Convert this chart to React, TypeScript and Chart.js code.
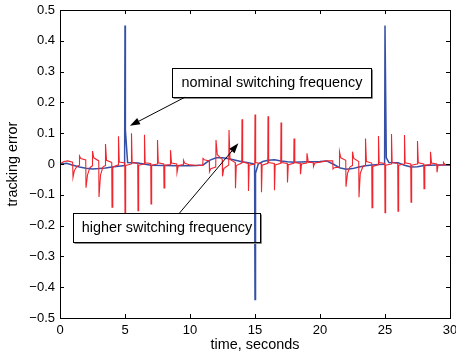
import React, { useEffect, useRef } from "react";
import { Chart, registerables } from "chart.js";

Chart.register(...registerables);

const FONT = "'Liberation Sans', Arial, Helvetica, sans-serif";

// axis ticks
const xTickValues = [0, 5, 10, 15, 20, 25, 30];
const yTickLabels = ["\u22120.5", "\u22120.4", "\u22120.3", "\u22120.2", "\u22120.1", "0", "0.1", "0.2", "0.3", "0.4", "0.5"];
const xTitle = "time, seconds";
const yTitle = "tracking error";

// higher switching frequency (red) – time, value
const redT = [
  0, 0.3, 0.6, 0.97, 1.0, 1.1, 1.3, 1.48, 1.5, 1.6, 1.98, 2.0, 2.12, 2.3, 2.48, 2.5, 2.6, 2.98,
  3.0, 3.12, 3.3, 3.48, 3.5, 3.58, 3.98, 4.0, 4.06, 4.48, 4.5, 4.56, 4.98, 5.0, 5.05, 5.48, 5.5, 5.55, 5.98,
  6.0, 6.05, 6.48, 6.5, 6.55, 6.98, 7.0, 7.05, 7.48, 7.5, 7.56, 7.98, 8.0, 8.06, 8.48, 8.5, 8.58, 8.98,
  9.0, 9.1, 9.48, 9.5, 9.6, 10.0, 10.5, 10.98,
  11.0, 11.1, 11.48, 11.5, 11.6, 11.98, 12.0, 12.1, 12.48, 12.5, 12.6, 12.98, 13.0, 13.08, 13.48, 13.5, 13.56, 13.98,
  14.0, 14.05, 14.48, 14.5, 14.55, 14.98, 15.0, 15.05, 15.48, 15.5, 15.55, 15.98, 16.0, 16.05, 16.48, 16.5, 16.55, 16.98,
  17.0, 17.05, 17.48, 17.5, 17.56, 17.98, 18.0, 18.06, 18.48, 18.5, 18.58, 18.98, 19.0, 19.1, 19.48, 19.5, 19.6, 20.0, 20.5, 20.98,
  21.0, 21.1, 21.48, 21.5, 21.6, 21.98, 22.0, 22.12, 22.3, 22.48, 22.5, 22.6, 22.98, 23.0, 23.1, 23.3, 23.48, 23.5, 23.57, 23.98,
  24.0, 24.06, 24.48, 24.5, 24.55, 24.98, 25.0, 25.05, 25.48, 25.5, 25.55, 25.98, 26.0, 26.05, 26.48, 26.5, 26.55, 26.98,
  27.0, 27.05, 27.48, 27.5, 27.56, 27.98, 28.0, 28.06, 28.48, 28.5, 28.58, 28.98, 29.0, 29.08, 29.48, 29.5, 29.6, 30.0,
];
const redV = [
  0.0, 0.008, 0.01, 0.006, -0.043, -0.022, -0.008, -0.004, 0.026, 0.018, 0.013, -0.077, -0.035, -0.012, -0.006, 0.042, 0.02, 0.01,
  -0.107, -0.035, -0.01, -0.005, 0.065, 0.012, 0.005, -0.14, -0.01, -0.003, 0.09, 0.006, 0.003, -0.16, -0.005, 0.0, 0.1, 0.005, 0.002,
  -0.152, -0.004, 0.0, 0.095, 0.004, 0.002, -0.13, -0.004, 0.0, 0.078, 0.004, 0.0, -0.078, -0.004, -0.002, 0.045, 0.003, 0.0,
  -0.028, -0.005, -0.002, 0.012, 0.002, -0.003, -0.004, -0.005,
  0.018, 0.014, 0.01, -0.025, -0.015, -0.01, 0.078, 0.03, 0.015, -0.04, -0.015, -0.003, 0.11, 0.015, 0.005, -0.079, -0.005, 0.003,
  0.145, 0.006, 0.002, -0.088, -0.004, 0.0, 0.161, 0.005, 0.001, -0.092, -0.004, 0.002, 0.155, 0.005, 0.002, -0.085, -0.003, 0.002,
  0.135, 0.005, 0.002, -0.06, -0.002, 0.002, 0.083, 0.005, 0.002, -0.033, 0.0, 0.003, 0.035, 0.006, 0.004, -0.008, 0.003, 0.006, 0.01, 0.01,
  -0.016, -0.012, -0.01, 0.04, 0.02, 0.012, -0.074, -0.03, -0.01, -0.005, 0.04, 0.018, 0.008, -0.108, -0.03, -0.008, -0.004, 0.083, 0.008, 0.003,
  -0.142, -0.008, -0.002, 0.091, 0.005, 0.002, -0.158, -0.004, 0.0, 0.097, 0.005, 0.002, -0.153, -0.004, 0.0, 0.094, 0.004, 0.0,
  -0.124, -0.004, 0.0, 0.075, 0.004, 0.0, -0.08, -0.004, -0.002, 0.04, 0.003, 0.0, -0.027, -0.004, -0.003, 0.005, -0.002, -0.003,
];

// nominal switching frequency (blue) – time, value
const blueT = [
  0, 0.5, 1, 1.5, 2, 2.5, 3, 3.5, 4, 4.5, 4.97, 5.0, 5.03, 5.2, 5.6, 6, 7, 8, 9, 10, 10.5, 11, 11.5, 12, 12.5, 13, 13.5, 14, 14.5,
  14.97, 15.0, 15.04, 15.25, 15.6, 16, 16.5, 17, 17.5, 18, 19, 20, 20.5, 21, 21.5, 22, 22.5, 23, 23.5, 24, 24.5,
  24.97, 25.0, 25.1, 25.3, 26, 26.5, 27, 27.5, 28, 29, 30,
];
const blueV = [
  0.0, 0.002, -0.004, -0.01, -0.014, -0.016, -0.015, -0.013, -0.01, -0.007, -0.005, 0.45, 0.11, 0.005, 0.004, 0.003, -0.004, -0.005, -0.006, -0.006, -0.005, -0.003, 0.012, 0.02, 0.02, 0.017, 0.012, 0.007, 0.004,
  0.0, -0.44, -0.03, 0.0, 0.008, 0.012, 0.014, 0.01, 0.007, 0.006, 0.007, 0.008, 0.01, 0.0, -0.012, -0.017, -0.015, -0.01, -0.006, -0.003, -0.002,
  -0.001, 0.45, 0.02, 0.005, 0.004, -0.004, -0.01, -0.009, -0.005, -0.003, -0.003,
];

// annotations (data units)
const noteTexts = ["nominal switching frequency", "higher switching frequency"];
const noteX0 = [8.64, 0.98];
const noteX1 = [23.9, 15.38];
const noteYTop = [0.311, -0.16];
const noteYBottom = [0.217, -0.254];
const arrowFromX = [9.62, 9.18];
const arrowFromY = [0.217, -0.16];
const arrowToX = [5.38, 13.72];
const arrowToY = [0.124, 0.067];

const framePlugin = {
  id: "frame",
  afterDraw(chart: any) {
    const { ctx, chartArea: a, scales } = chart;
    const xs = scales.x;
    const ys = scales.y;
    ctx.save();
    ctx.strokeStyle = "#000";
    ctx.lineWidth = 1;
    ctx.strokeRect(Math.round(a.left) + 0.5, Math.round(a.top) + 0.5, Math.round(a.right - a.left), Math.round(a.bottom - a.top));
    const tl = 4;
    ctx.beginPath();
    xs.ticks.forEach((t: any) => {
      const px = Math.round(xs.getPixelForValue(t.value)) + 0.5;
      ctx.moveTo(px, a.bottom);
      ctx.lineTo(px, a.bottom - tl);
      ctx.moveTo(px, a.top);
      ctx.lineTo(px, a.top + tl);
    });
    ys.ticks.forEach((t: any) => {
      const py = Math.round(ys.getPixelForValue(t.value)) + 0.5;
      ctx.moveTo(a.left, py);
      ctx.lineTo(a.left + tl, py);
      ctx.moveTo(a.right, py);
      ctx.lineTo(a.right - tl, py);
    });
    ctx.stroke();

    // annotations
    ctx.font = "14.4px " + FONT;
    ctx.textBaseline = "middle";
    ctx.textAlign = "center";
    for (let i = 0; i < noteTexts.length; i++) {
      const x0 = Math.round(xs.getPixelForValue(noteX0[i])) + 0.5;
      const x1 = Math.round(xs.getPixelForValue(noteX1[i])) + 0.5;
      const y0 = Math.round(ys.getPixelForValue(noteYTop[i])) + 0.5;
      const y1 = Math.round(ys.getPixelForValue(noteYBottom[i])) + 0.5;
      ctx.strokeStyle = "#8a8a8a";
      ctx.lineWidth = 1;
      ctx.beginPath();
      ctx.moveTo(x1 + 1, y0 + 1);
      ctx.lineTo(x1 + 1, y1 + 1);
      ctx.lineTo(x0 + 1, y1 + 1);
      ctx.stroke();
      ctx.strokeStyle = "#000";
      ctx.strokeRect(x0, y0, x1 - x0, y1 - y0);
      ctx.fillStyle = "#000";
      ctx.fillText(noteTexts[i], (x0 + x1) / 2, (y0 + y1) / 2 + 0.5);

      const fx = xs.getPixelForValue(arrowFromX[i]);
      const fy = ys.getPixelForValue(arrowFromY[i]);
      const tx = xs.getPixelForValue(arrowToX[i]);
      const ty = ys.getPixelForValue(arrowToY[i]);
      const ang = Math.atan2(ty - fy, tx - fx);
      const hl = 10;
      const hw = 3.5;
      const bx = tx - hl * Math.cos(ang);
      const by = ty - hl * Math.sin(ang);
      ctx.beginPath();
      ctx.moveTo(fx, fy);
      ctx.lineTo(bx, by);
      ctx.stroke();
      ctx.beginPath();
      ctx.moveTo(tx, ty);
      ctx.lineTo(bx + hw * Math.sin(ang), by - hw * Math.cos(ang));
      ctx.lineTo(bx - hw * Math.sin(ang), by + hw * Math.cos(ang));
      ctx.closePath();
      ctx.fill();
    }
    ctx.restore();
  },
};

export default function App() {
  const ref = useRef<HTMLCanvasElement | null>(null);
  useEffect(() => {
    if (!ref.current) return;
    const redData = redT.map((t, i) => ({ x: t, y: redV[i] }));
    const blueData = blueT.map((t, i) => ({ x: t, y: blueV[i] }));
    const chart = new Chart(ref.current, {
      type: "line",
      data: {
        datasets: [
          {
            label: "higher switching frequency",
            data: redData,
            borderColor: "#f0262e",
            borderWidth: 1.1,
            pointRadius: 0,
            tension: 0,
            fill: false,
          },
          {
            label: "nominal switching frequency",
            data: blueData,
            borderColor: "#3550a6",
            borderWidth: 1.5,
            pointRadius: 0,
            tension: 0,
            fill: false,
          },
        ],
      },
      options: {
        animation: false,
        responsive: false,
        events: [],
        layout: { padding: { left: 0, right: 6, top: 10, bottom: 0 } },
        plugins: { legend: { display: false }, tooltip: { enabled: false } },
        scales: {
          x: {
            type: "linear",
            min: 0,
            max: 30,
            afterBuildTicks: (s: any) => {
              s.ticks = xTickValues.map((v) => ({ value: v }));
            },
            afterFit: (s: any) => {
              s.height = 38;
              s.paddingLeft = 0;
              s.paddingRight = 0;
            },
            grid: { display: false, drawTicks: false },
            border: { display: false },
            ticks: {
              color: "#000",
              font: { family: FONT, size: 13 },
              padding: 5,
              maxRotation: 0,
              autoSkip: false,
              callback: (v: any) => String(v),
            },
            title: {
              display: true,
              text: xTitle,
              color: "#000",
              font: { family: FONT, size: 14.4 },
              padding: { top: 0, bottom: 2 },
            },
          },
          y: {
            type: "linear",
            min: -0.5,
            max: 0.5,
            ticks: {
              stepSize: 0.1,
              color: "#000",
              font: { family: FONT, size: 13 },
              padding: 5,
              autoSkip: false,
              callback: (_v: any, i: number) => yTickLabels[i],
            },
            afterFit: (s: any) => {
              s.width = 60;
              s.paddingTop = 0;
              s.paddingBottom = 0;
            },
            grid: { display: false, drawTicks: false },
            border: { display: false },
            title: {
              display: true,
              text: yTitle,
              color: "#000",
              font: { family: FONT, size: 14.4 },
              padding: { top: 4, bottom: 0 },
            },
          },
        },
      },
      plugins: [framePlugin],
    });
    return () => chart.destroy();
  }, []);
  return (
    <canvas
      ref={ref}
      width={456}
      height={356}
      style={{ position: "fixed", left: 0, top: 0, width: 456, height: 356, background: "#fff" }}
    />
  );
}
